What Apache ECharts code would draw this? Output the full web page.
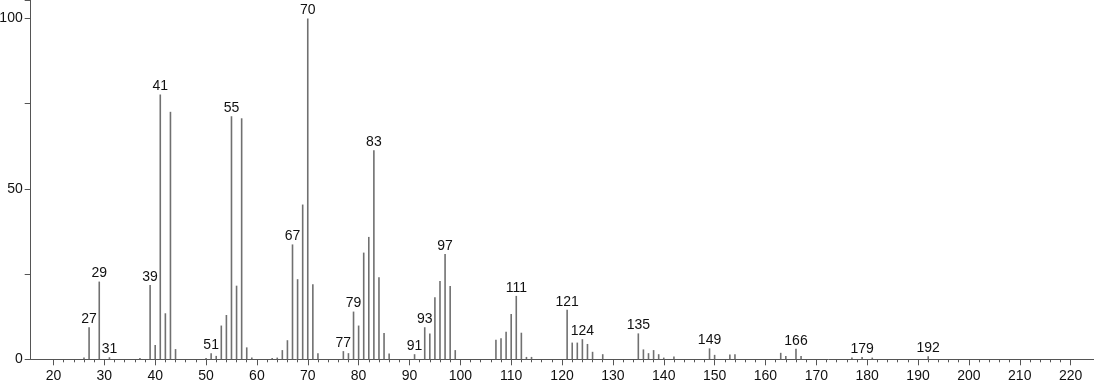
<!DOCTYPE html>
<html>
<head>
<meta charset="utf-8">
<script src="https://cdn.jsdelivr.net/npm/echarts@6/dist/echarts.min.js"></script>
<style>
html,body{margin:0;padding:0;background:#fff;}
#chart{width:1094px;height:384px;}
</style>
</head>
<body>
<div id="chart"></div>
<script>
// m/z values of the peaks
const mz = [26,27,29,31,37,39,40,41,42,43,44,50,51,52,53,54,55,56,57,58,59,
  63,64,65,66,67,68,69,70,71,72,77,78,79,80,81,82,83,84,85,86,
  91,93,94,95,96,97,98,99,107,108,109,110,111,112,113,114,
  121,122,123,124,125,126,128,135,136,137,138,139,140,142,149,150,
  153,154,163,164,166,167,177,179,181,192];
// relative intensities
const intensity = [0.5,9.4,22.8,0.6,0.4,21.8,4.2,77.7,13.5,72.6,3.0,0.4,1.8,1.0,9.9,13.0,71.3,21.6,70.7,3.5,0.5,
  0.4,0.5,2.7,5.6,33.7,23.5,45.4,100,22.0,1.8,2.4,1.8,14.0,9.9,31.3,35.9,61.3,24.1,7.7,1.7,
  1.5,9.4,7.6,18.2,23.0,30.9,21.5,2.7,5.7,6.2,8.1,13.3,18.6,7.8,0.7,0.7,
  14.5,4.9,4.9,5.9,4.5,2.2,1.5,7.6,2.9,1.8,2.7,1.5,0.5,0.8,3.2,1.3,
  1.4,1.5,1.9,1.0,3.1,1.0,0.5,0.7,0.5,0.9];
// peaks with a m/z label
const labeledMz = [27,29,31,39,41,51,55,67,70,77,79,83,91,93,97,111,121,124,135,149,166,179,192];
// axis ticks
const xMinorTicks = [];
for (let v = 20; v <= 220; v += 2) xMinorTicks.push(v);
const xMajorTicks = [20,30,40,50,60,70,80,90,100,110,120,130,140,150,160,170,180,190,200,210,220];
const yLabels = [0,50,100];

const FONT = 'Liberation Sans, Arial, sans-serif';
const XMIN = 15.52, XMAX = 224.6;
const chart = echarts.init(document.getElementById('chart'));
const data = mz.map((m, i) => {
  const item = { value: [m, intensity[i]] };
  if (labeledMz.includes(m)) {
    item.label = { show: true, position: 'top', distance: 1, formatter: String(m),
      fontSize: 14, color: '#111', fontFamily: FONT };
  }
  return item;
});
chart.setOption({
  animation: false,
  backgroundColor: '#fff',
  grid: { left: 30.7, right: 0, top: 0, bottom: 24.7, containLabel: false, outerBoundsMode: 'none' },
  xAxis: [
    { type: 'value', min: XMIN, max: XMAX, position: 'bottom',
      axisLine: { show: true, onZero: false, lineStyle: { color: '#555', width: 1 } },
      axisTick: { show: true, length: 3, customValues: xMinorTicks, lineStyle: { color: '#555' } },
      axisLabel: { show: false },
      splitLine: { show: false } },
    { type: 'value', min: XMIN, max: XMAX, position: 'bottom',
      axisLine: { show: false },
      axisTick: { show: true, length: 6, customValues: xMajorTicks, lineStyle: { color: '#555' } },
      axisLabel: { show: true, customValues: xMajorTicks, margin: 10, fontSize: 14, color: '#111',
        fontFamily: FONT },
      splitLine: { show: false } }
  ],
  yAxis: {
    type: 'value', min: 0, max: 105.4, interval: 25,
    axisLine: { show: true, lineStyle: { color: '#555', width: 1 } },
    axisTick: { show: true, length: 6, lineStyle: { color: '#555' } },
    axisLabel: { margin: 8, fontSize: 14, color: '#111', fontFamily: FONT,
      formatter: v => yLabels.includes(v) ? String(v) : '' },
    splitLine: { show: false }
  },
  series: [{
    type: 'bar', xAxisIndex: 0, data: data, barWidth: 1.6,
    itemStyle: { color: '#707070' },
    label: { show: false }
  }]
});
</script>
</body>
</html>
